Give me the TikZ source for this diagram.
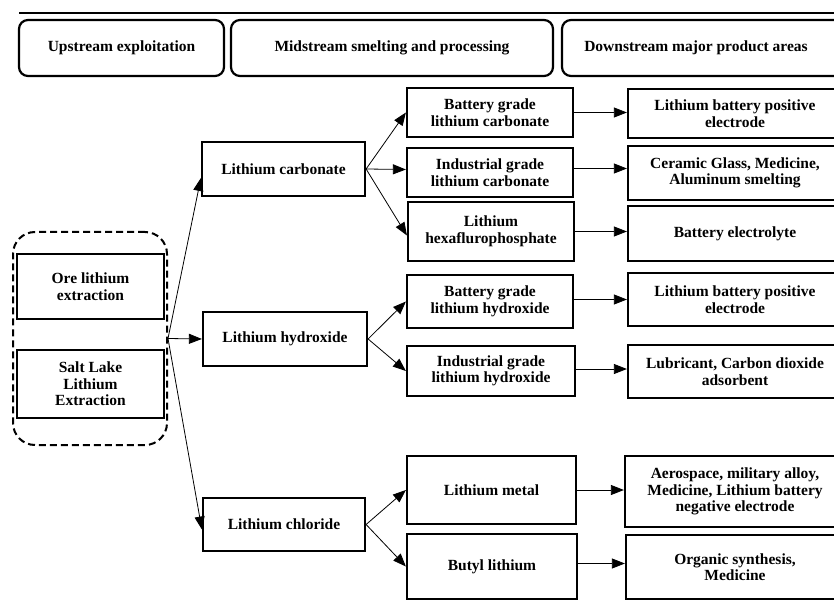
\documentclass[tikz,border=0pt]{standalone}
\usepackage{fontspec}
\setmainfont{Liberation Serif}
\usetikzlibrary{arrows.meta}
\begin{document}
\begin{tikzpicture}[x=1pt,y=-1pt,
  bx/.style={draw, line width=2.2pt, inner sep=0pt, align=center,
    font=\fontsize{15.5}{16.5}\selectfont\bfseries},
  hdr/.style={bx, rounded corners=9pt},
  lbl/.style={inner sep=0pt, align=center, font=\fontsize{15.5}{16.5}\selectfont\bfseries},
  arr/.style={line width=0.8pt, -{Triangle[length=13pt,width=10pt]}},
  dash box/.style={draw, line width=2pt, dash pattern=on 7pt off 4pt, rounded corners=22pt}]
\useasboundingbox (0,0) rectangle (834,601);
% top rule
\coordinate (tl) at (19,13);
\coordinate (tr) at (840,13);
\draw[line width=2.5pt] (tl) -- (tr);
% header
\node[hdr, minimum width=205pt, minimum height=56pt] (up) at (121.5,48) {Upstream exploitation};
\node[hdr, minimum width=322pt, minimum height=56pt] (mid) at (392,48) {Midstream smelting and processing};
\node[hdr, minimum width=290pt, minimum height=56pt] (downbox) at (707,48) {};
\node[lbl] (down) at (696,48) {Downstream major product areas};
% source
\node[dash box, minimum width=154pt, minimum height=213pt] (src) at (90,338.5) {};
\node[bx, minimum width=147pt, minimum height=65pt] (ore) at (90.5,286.5) {Ore lithium\\extraction};
\node[bx, minimum width=147pt, minimum height=68pt] (salt) at (90.5,384) {Salt Lake\\Lithium\\Extraction};
% intermediate
\node[bx, minimum width=163pt, minimum height=54pt] (carb) at (283.5,169) {Lithium carbonate};
\node[bx, minimum width=164pt, minimum height=54pt] (hyd) at (285,339) {Lithium hydroxide};
\node[bx, minimum width=162pt, minimum height=53pt] (chl) at (284,524.5) {Lithium chloride};
% products
\node[bx, minimum width=166pt, minimum height=49pt] (bglc) at (490,112.5) {Battery grade\\lithium carbonate};
\node[bx, minimum width=166pt, minimum height=49pt] (iglc) at (490,172.5) {Industrial grade\\lithium carbonate};
\node[bx, minimum width=166pt, minimum height=59pt] (lhfp) at (491,231.5) {Lithium\\hexaflurophosphate};
\node[bx, minimum width=166pt, minimum height=53pt] (bglh) at (490,301.5) {Battery grade\\lithium hydroxide};
\node[bx, minimum width=168pt, minimum height=50pt] (iglh) at (491,371) {Industrial grade\\lithium hydroxide};
\node[bx, minimum width=169pt, minimum height=68pt] (lm) at (491.5,490) {Lithium metal};
\node[bx, minimum width=170pt, minimum height=65pt] (bl) at (492,566.5) {Butyl lithium};
% applications
\node[bx, minimum width=214pt, minimum height=49pt] (r1) at (735,113.5) {Lithium battery positive\\electrode};
\node[bx, minimum width=214pt, minimum height=54pt] (r2) at (735,173) {Ceramic Glass, Medicine,\\Aluminum smelting};
\node[bx, minimum width=214pt, minimum height=55pt] (r3) at (735,233.5) {Battery electrolyte};
\node[bx, minimum width=214pt, minimum height=53pt] (r4) at (735,299.5) {Lithium battery positive\\electrode};
\node[bx, minimum width=214pt, minimum height=53pt] (r5) at (735,371.5) {Lubricant, Carbon dioxide\\adsorbent};
\node[bx, minimum width=220pt, minimum height=71pt] (r6) at (735,491.5) {Aerospace, military alloy,\\Medicine, Lithium battery\\negative electrode};
\node[bx, minimum width=218pt, minimum height=64pt] (r7) at (735,567) {Organic synthesis,\\Medicine};
% connectors
\draw[arr] (src.east) -- ([yshift=-9pt]carb.west);
\draw[arr] (src.east) -- (hyd.west);
\draw[arr] (src.east) -- ([yshift=-5pt]chl.west);
\draw[arr] (carb.east) -- (bglc.west);
\draw[arr] (carb.east) -- ([yshift=3pt]iglc.west);
\draw[arr] (carb.east) -- ([yshift=-4pt]lhfp.west);
\draw[arr] (hyd.east) -- (bglh.west);
\draw[arr] (hyd.east) -- (iglh.west);
\draw[arr] (chl.east) -- (lm.west);
\draw[arr] (chl.east) -- (bl.west);
\draw[arr] (bglc.east) -- (bglc.east -| r1.west);
\draw[arr] ([yshift=4pt]iglc.east) -- ([yshift=4pt]iglc.east -| r2.west);
\draw[arr] (lhfp.east) -- (lhfp.east -| r3.west);
\draw[arr] ([yshift=2pt]bglh.east) -- ([yshift=2pt]bglh.east -| r4.west);
\draw[arr] ([yshift=2pt]iglh.east) -- ([yshift=2pt]iglh.east -| r5.west);
\draw[arr] (lm.east) -- (lm.east -| r6.west);
\draw[arr] ([yshift=3pt]bl.east) -- ([yshift=3pt]bl.east -| r7.west);
\end{tikzpicture}
\end{document}
